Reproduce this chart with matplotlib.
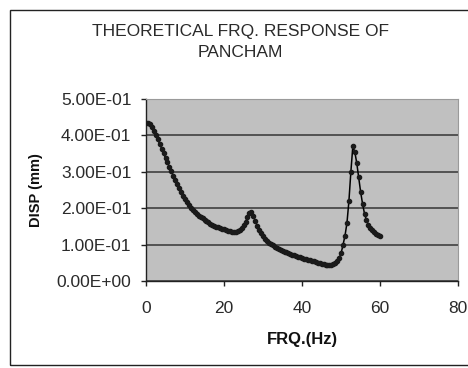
import numpy as np
import matplotlib
matplotlib.use("Agg")
from matplotlib import pyplot as plt
from matplotlib.ticker import FuncFormatter, MultipleLocator
from matplotlib.patches import Rectangle

plt.rcParams['font.family'] = ['Liberation Sans', 'DejaVu Sans']

# frequency (Hz), 0.5 Hz steps
freq = np.arange(0, 60.5, 0.5)

# displacement (mm)
disp = [
    0.435, 0.434, 0.430, 0.422, 0.412, 0.401, 0.389, 0.377, 0.364, 0.351,   # 0 - 4.5
    0.338, 0.326, 0.313, 0.301, 0.289, 0.277, 0.266, 0.255, 0.245, 0.235,   # 5 - 9.5
    0.226, 0.217, 0.209, 0.202, 0.196, 0.190, 0.185, 0.180, 0.176, 0.172,   # 10 - 14.5
    0.168, 0.164, 0.161, 0.158, 0.155, 0.152, 0.150, 0.148, 0.146, 0.144,   # 15 - 19.5
    0.142, 0.140, 0.138, 0.137, 0.136, 0.135, 0.136, 0.138, 0.141, 0.146,   # 20 - 24.5
    0.153, 0.163, 0.175, 0.186, 0.190, 0.180, 0.165, 0.152, 0.141, 0.132,   # 25 - 29.5
    0.124, 0.117, 0.111, 0.106, 0.102, 0.098, 0.095, 0.092, 0.089, 0.086,   # 30 - 34.5
    0.083, 0.081, 0.079, 0.077, 0.075, 0.073, 0.071, 0.069, 0.067, 0.065,   # 35 - 39.5
    0.063, 0.061, 0.060, 0.058, 0.057, 0.055, 0.054, 0.052, 0.051, 0.049,   # 40 - 44.5
    0.048, 0.046, 0.045, 0.044, 0.044, 0.045, 0.046, 0.050, 0.055, 0.063,   # 45 - 49.5
    0.077, 0.100, 0.125, 0.160, 0.220, 0.300, 0.370, 0.355, 0.325, 0.285,   # 50 - 54.5
    0.245, 0.212, 0.185, 0.167, 0.155, 0.147, 0.140, 0.135, 0.130, 0.126,   # 55 - 59.5
    0.123,                                                                  # 60
]

title = "THEORETICAL FRQ. RESPONSE OF\nPANCHAM"
xlabel = "FRQ.(Hz)"
ylabel = "DISP (mm)"

fig = plt.figure(figsize=(4.68, 3.68), dpi=100)
fig.patch.set_facecolor('white')

# outer chart frame
fig.patches.append(Rectangle((10 / 468., 3 / 368.), 1.2, 355 / 368., transform=fig.transFigure,
                             fill=False, edgecolor='#222222', linewidth=1.0))

ax = fig.add_axes([0.312, 0.236, 0.667, 0.495])
ax.set_facecolor('#c0c0c0')

ax.plot(freq, disp, color='black', linewidth=1.1, marker='o', markersize=3.0,
        markerfacecolor='#1a1a1a', markeredgecolor='#1a1a1a', zorder=3)

ax.set_xlim(0, 80)
ax.set_ylim(0, 0.5)
ax.xaxis.set_major_locator(MultipleLocator(20))
ax.yaxis.set_major_locator(MultipleLocator(0.1))
ax.yaxis.set_major_formatter(FuncFormatter(lambda v, p: '{:.2E}'.format(v)))

ax.grid(axis='y', color='#4a4a4a', linewidth=1.3, zorder=1)
ax.set_axisbelow(True)

for side in ['left', 'bottom']:
    ax.spines[side].set_color('#222222')
    ax.spines[side].set_linewidth(1.0)
for side in ['top', 'right']:
    ax.spines[side].set_color('#9a9a9a')
    ax.spines[side].set_linewidth(0.8)

ax.tick_params(axis='both', direction='out', length=3.5, width=1, color='#222222',
               labelsize=12.5, labelcolor='#2a2a2a')
ax.tick_params(axis='x', pad=11)
ax.tick_params(axis='y', pad=7)

ax.set_xlabel(xlabel, fontsize=12, fontweight='bold', color='#111111', labelpad=11)
ax.set_ylabel(ylabel, fontsize=10.5, fontweight='bold', color='#111111', labelpad=10)

fig.text(0.513, 0.886, title, ha='center', va='center', fontsize=12.5,
         color='#2a2a2a', linespacing=1.45)

fig.savefig('out.png', dpi=100)
